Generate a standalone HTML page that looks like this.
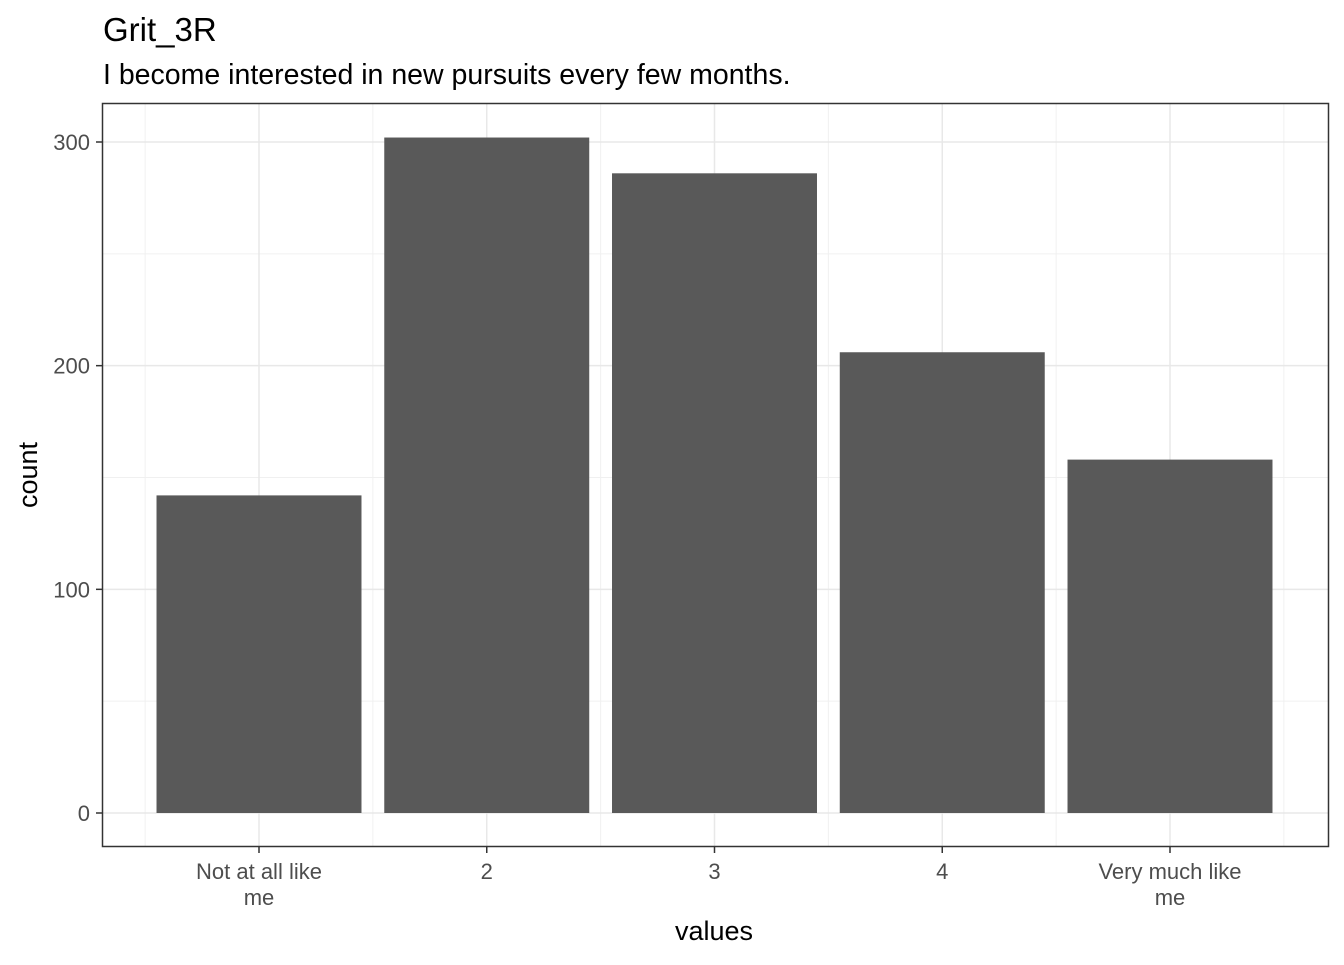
<!DOCTYPE html>
<html><head><meta charset="utf-8"><style>
body{margin:0;background:#fff;font-family:"Liberation Sans",sans-serif}
</style></head><body>
<svg width="1344" height="960" xmlns="http://www.w3.org/2000/svg" id="c">
<text x="103" y="41" font-size="33" fill="#000">Grit_3R</text>
<text x="103" y="84" font-size="28.5" fill="#000">I become interested in new pursuits every few months.</text>
<g id="grid"></g>
<g id="bars"></g>
<rect x="102.5" y="103.5" width="1226" height="743" fill="none" stroke="#333" stroke-width="1.5"/>
<g id="axes"></g>
<text x="714" y="940" font-size="27" text-anchor="middle">values</text>
<text transform="translate(37,475) rotate(-90)" font-size="27" text-anchor="middle">count</text>
</svg>
<script>
const categories=[["Not at all like","me"],["2"],["3"],["4"],["Very much like","me"]];
const counts=[142,302,286,206,158];
const yTicks=[0,100,200,300];
const yMinor=[50,150,250];
const NS="http://www.w3.org/2000/svg";
const pLeft=102,pRight=1329,pTop=103,pBottom=847;
const y=v=>813-v*(671/300);
const step=227.75, x0=259;
const x=i=>x0+i*step;
const bw=step*0.9;
function mk(t,a,p){const e=document.createElementNS(NS,t);for(const k in a)e.setAttribute(k,a[k]);p.appendChild(e);return e;}
const grid=document.getElementById('grid'),bars=document.getElementById('bars'),axes=document.getElementById('axes');
yMinor.forEach(v=>{const l=mk('line',{x1:pLeft,x2:pRight,y1:y(v),y2:y(v),stroke:'#f0f0f0','stroke-width':1},grid);

});
for(let i=0;i<=categories.length;i++){const xv=x(i)-step/2;const l=mk('line',{x1:xv,x2:xv,y1:pTop,y2:pBottom,stroke:'#f0f0f0','stroke-width':1},grid);

}
yTicks.forEach(v=>{const l=mk('line',{x1:pLeft,x2:pRight,y1:y(v),y2:y(v),stroke:'#e8e8e8','stroke-width':1.5},grid);


const t=mk('line',{x1:pLeft-6,x2:pLeft,y1:y(v),y2:y(v),stroke:'#333','stroke-width':1.5},axes);


const tx=mk('text',{x:pLeft-12,y:y(v)+8,'font-size':22,fill:'#4d4d4d','text-anchor':'end'},axes);tx.textContent=v;

});
categories.forEach((c,i)=>{const l=mk('line',{x1:x(i),x2:x(i),y1:pTop,y2:pBottom,stroke:'#e8e8e8','stroke-width':1.5},grid);


const r=mk('rect',{x:x(i)-bw/2,y:y(counts[i]),width:bw,height:y(0)-y(counts[i]),fill:'#595959'},bars);


const t=mk('line',{x1:x(i),x2:x(i),y1:pBottom,y2:pBottom+6,stroke:'#333','stroke-width':1.5},axes);


c.forEach((s,j)=>{const tx=mk('text',{x:x(i),y:879+j*26,'font-size':22,fill:'#4d4d4d','text-anchor':'middle'},axes);tx.textContent=s;

});});
</script>
</body></html>
